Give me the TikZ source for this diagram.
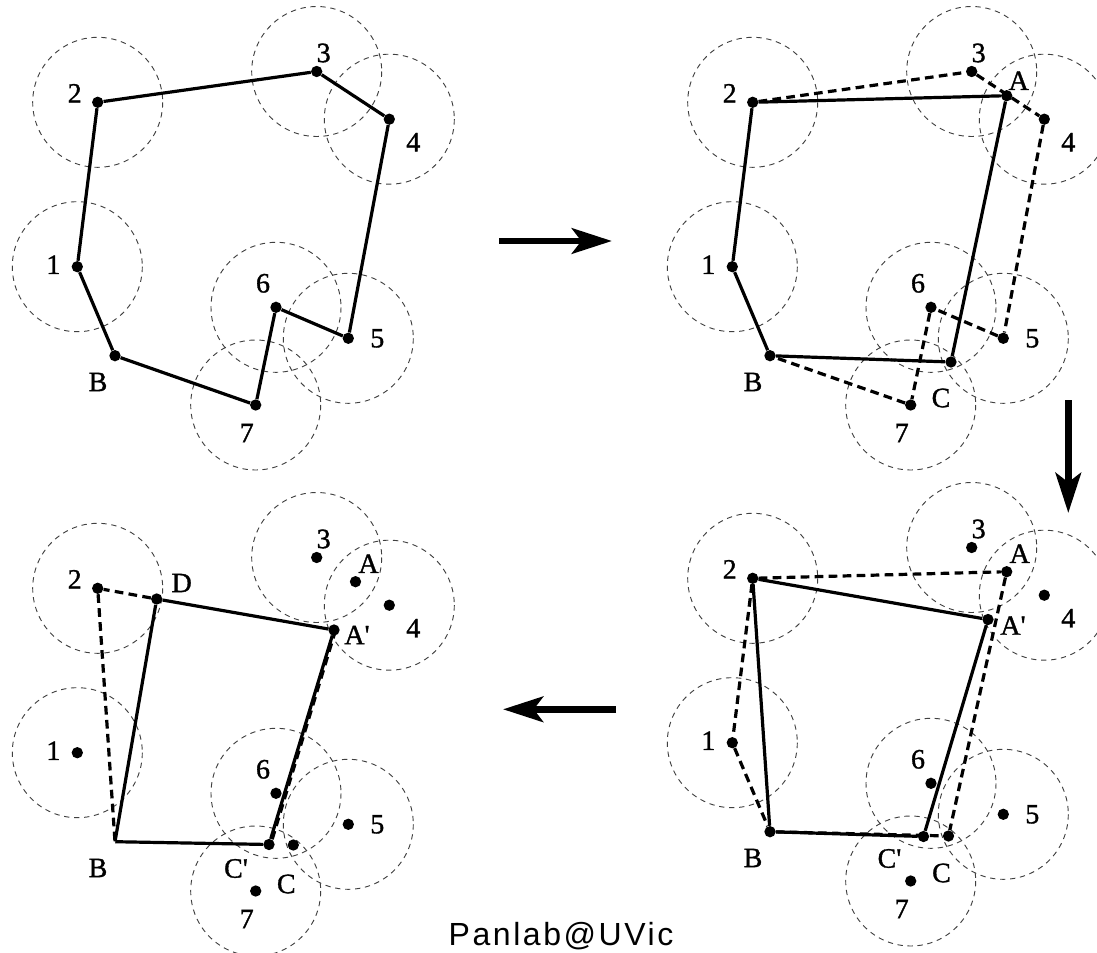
\documentclass[tikz,border=0pt]{standalone}
\usepackage{fontspec}
\setmainfont{Liberation Serif}
\newfontfamily\lblfont[FakeBold=1.2]{Liberation Serif}
\newfontfamily\credfont[LetterSpace=8]{Liberation Sans}
\usetikzlibrary{arrows.meta}

\tikzset{
  zone/.style={black!75, line width=0.7pt, dash pattern=on 4pt off 3.5pt},
  dot/.style={circle, fill, inner sep=0pt, minimum size=8.5pt},
  corner/.style={inner sep=0pt, minimum size=0pt},
  lbl/.style={font=\lblfont\fontsize{21}{21}\selectfont, inner sep=0pt},
  edge/.style={line width=2.4pt},
  old/.style={line width=2.4pt, dash pattern=on 6.5pt off 4pt},
  bigarrow/.style={line width=5.2pt, -{Stealth[length=30pt,width=19pt,inset=7pt]}}
}

% the seven sites with their search circles, plus B
\newcommand\sites[2]{%
  \foreach \n/\x/\y/\dx/\dy in {1/77.3/266.7/-24/-2, 2/97.7/102.3/-23/-9,
      3/316.7/71.5/7/-18.5, 4/389.3/119.2/24/23, 5/348.3/338.3/29/0,
      6/276/307.3/-13/-24, 7/255.7/405/-9/28}{
    \draw[zone] (\x,\y) circle[radius=65];
    \node[dot] (#1p\n) at (\x,\y) {};
    \node[lbl] (#1p\n-t) at ({\x+(\dx)},{\y+(\dy)}) {\n};
  }
  \node[#2] (#1B) at (115,355.7) {};
  \node[lbl] (#1B-t) at (98,382) {B};
}

\begin{document}
\begin{tikzpicture}[x=0.75pt, y=-0.75pt]
  \useasboundingbox (0,0) rectangle (1097,953);

  % step 1
  \begin{scope}
    \sites{q1}{dot}
    \draw[edge] (q1p2) -- (q1p3) -- (q1p4) -- (q1p5) -- (q1p6) -- (q1p7)
      -- (q1B) -- (q1p1) -- (q1p2);
  \end{scope}

  % step 2
  \begin{scope}[shift={(655,0)}]
    \sites{q2}{dot}
    \foreach \n/\t/\x/\y/\dx/\dy in {A/A/351.7/95.7/12/-15, C/C/296/362/-10/36}{
      \node[dot] (q2\n) at (\x,\y) {};
      \node[lbl] (q2\n-t) at ({\x+(\dx)},{\y+(\dy)}) {\t};
    }
    \draw[old] (q2p2) -- (q2p3) -- (q2p4) -- (q2p5) -- (q2p6) -- (q2p7) -- (q2B);
    \draw[edge] (q2p2) -- (q2A) -- (q2C) -- (q2B) -- (q2p1) -- (q2p2);
  \end{scope}

  % step 3
  \begin{scope}[shift={(655,476)}]
    \sites{q4}{dot}
    \foreach \n/\t/\x/\y/\dx/\dy in {A/A/351.7/95.7/13/-18,
        Ap/A\textquotesingle/333/143.5/25/6, C/C/293.5/360/-7/37,
        Cp/C\textquotesingle/268.5/360.5/-34/22}{
      \node[dot] (q4\n) at (\x,\y) {};
      \node[lbl] (q4\n-t) at ({\x+(\dx)},{\y+(\dy)}) {\t};
    }
    \draw[old] (q4p2) -- (q4A) -- (q4C);
    \draw[old] (q4p2) -- (q4p1) -- (q4B) -- (q4C);
    \draw[edge] (q4p2) -- (q4Ap) -- (q4Cp) -- (q4B) -- (q4p2);
  \end{scope}

  % step 4
  \begin{scope}[shift={(0,486)}]
    \sites{q3}{corner}
    \foreach \n/\t/\x/\y/\dx/\dy in {A/A/355.5/95.7/13/-18,
        Ap/A\textquotesingle/334/144/23/5, C/C/293.3/359/-7/39,
        Cp/C\textquotesingle/269/358.5/-33/24, D/D/156.7/113/25/-16}{
      \node[dot] (q3\n) at (\x,\y) {};
      \node[lbl] (q3\n-t) at ({\x+(\dx)},{\y+(\dy)}) {\t};
    }
    \draw[old] (q3D) -- (q3p2) -- (q3B);
    \draw[old] ([xshift=1.2pt]q3Ap.center) -- ([xshift=1.2pt]q3Cp.center);
    \draw[edge] (q3D) -- (q3Ap) -- (q3Cp) -- (q3B) -- (q3D);
  \end{scope}

  % arrows between the steps
  \coordinate (r0) at (499,241);
  \coordinate (r1) at (612,241);
  \coordinate (d0) at (1068.3,400);
  \coordinate (d1) at (1068.3,513);
  \coordinate (l0) at (616,709.3);
  \coordinate (l1) at (503,709.3);
  \draw[bigarrow] (r0) -- (r1);
  \draw[bigarrow] (d0) -- (d1);
  \draw[bigarrow] (l0) -- (l1);

  \node[font=\credfont\fontsize{24}{24}\selectfont, inner sep=0pt, anchor=base]
    (credit) at (561,945) {Panlab@UVic};
\end{tikzpicture}
\end{document}
